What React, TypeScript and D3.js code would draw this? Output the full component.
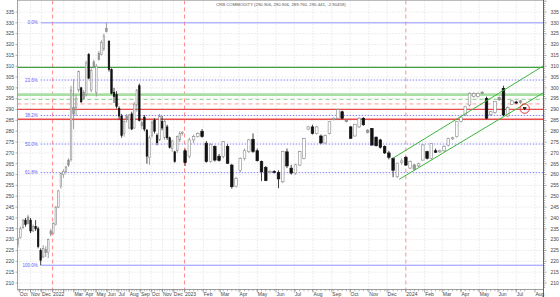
import React from "react";
import * as d3 from "d3";

const TITLE = "CRB COMMODITY (290.906, 290.906, 289.760, 290.441, -2.90459)";
const FIRST_WEEK = "2021-09-27";

const opens = [
  228, 231, 235.5, 239, 240.5, 239, 234, 236, 235, 225, 222, 224, 224, 234, 233, 237, 245, 254.5, 260, 261.5,
  266.7, 267, 288, 291, 299, 300, 298, 297, 315.5, 299, 312, 298, 316, 315.5, 318, 327.5, 321.5, 308.5, 298, 297,
  290.5, 287, 279, 287, 281.5, 288, 281.5, 292, 301, 282.5, 286.5, 280.5, 268, 278, 285, 278, 276, 284.5, 277, 282,
  277, 272, 270.5, 271, 276, 279,
  271, 268.5, 276, 277.5, 280, 274.5, 266, 273, 268.5, 268.3, 273, 264.4, 254.7, 261.8, 267.5, 270.6, 276.3, 271, 266, 263.3,
  261, 261.5, 261, 256.7, 270.5, 263, 260.7, 264.4, 267.5, 281, 282, 279, 277.8, 274.6, 279, 285.5, 286, 289, 284.5, 282,
  277.8, 282, 286, 279.5, 281.3, 277.3, 276, 273, 270, 267.5, 259, 265.5, 268, 263, 262.5, 264, 266.7, 270.6, 267.5, 271,
  270.5, 271, 273.6, 276.5, 277.5, 284.5, 287.5, 292.1, 296, 296, 298, 295.2, 287.6, 288.6, 295.5, 299.8, 287, 292.3, 293.5, 294,
  290.906,
];
const highs = [
  231, 236, 239.5, 240, 241.5, 240, 237, 239, 236, 226, 227.5, 227, 230.5, 235, 238, 245.5, 253, 261, 262.5, 264,
  267.5, 301, 304, 297, 308, 300.5, 299, 312.5, 316, 309, 313, 311, 317, 322, 325, 330, 322, 309, 300, 298.5,
  291.5, 288, 285, 288, 288, 289, 293.5, 299.5, 302, 285, 287.5, 281, 278, 285, 286, 279, 288, 287, 285.5, 283,
  277.5, 276, 271, 278, 280, 280,
  272, 277, 278.5, 279.5, 281, 275.5, 274.5, 273.5, 269.5, 275.5, 274, 265, 259, 268, 272, 276.5, 279, 272, 266.5, 264,
  262, 262, 262, 271, 272, 264.5, 265, 271, 277, 282.5, 283, 282.5, 278.5, 278.5, 284.5, 286.5, 290.5, 289.5, 285.5, 282.5,
  283.5, 286.5, 286.5, 281, 281.5, 277.5, 276.5, 273.5, 271, 268, 265.5, 267.5, 268.5, 266.5, 265, 265.5, 274, 271, 274.5, 272,
  271.5, 273.5, 277, 277.5, 284.5, 287, 291.5, 298, 298, 298, 298.5, 296, 289.5, 294, 296, 301, 291.5, 294.5, 294, 294.5,
  290.906,
];
const lows = [
  226.5, 230.5, 235, 236, 237, 233, 233.5, 234, 226, 218.2, 221.5, 222, 221.5, 231.5, 232.5, 236.5, 244.5, 253.5, 258.5, 260.5,
  263.5, 266, 281, 287, 298, 293, 294.5, 296, 304, 298, 309, 296, 312.5, 315, 317, 325.5, 307.5, 297, 293, 290.5,
  285.5, 277, 277.5, 284, 281, 280.5, 281, 289, 284.5, 281, 280, 265, 264.5, 277, 279, 273.5, 275.5, 280.5, 276, 276,
  272, 270.5, 265.5, 270, 275, 278,
  264, 267.5, 274.5, 277, 277, 265.5, 265.5, 266, 266, 267.5, 265, 253.5, 254, 261, 266.5, 270, 270, 266, 257, 257,
  260.5, 260.5, 253.7, 256, 263, 260, 260, 264, 267, 280.5, 278.5, 278.5, 274, 274, 278.5, 285, 285.5, 285.5, 284, 276.5,
  277.5, 281.5, 282.5, 279, 273.5, 273, 272, 269.5, 267, 258.8, 258.5, 264.5, 264, 262.5, 262, 263.5, 266.5, 267, 267, 270,
  270, 270.5, 273, 276, 277, 284, 287, 291.5, 295.5, 295.5, 297, 285.5, 287, 288, 294, 287, 286.5, 292, 292.5, 292.5,
  289.76,
];
const closes = [
  230.5, 235, 239, 237, 237.5, 234, 236, 235, 226.8, 220.5, 226, 225.5, 230, 232.5, 237.5, 245, 252.5, 260.5, 261.5, 263.5,
  264.4, 299, 291, 295, 307.5, 293.6, 295, 311.5, 304.5, 308, 309.5, 310, 313, 321, 324, 326, 308.5, 297.5, 296, 291.5,
  287, 278, 284.5, 285.5, 287.5, 281, 292.5, 299, 285, 284, 281, 268.5, 277, 284, 280, 274.7, 287, 281.5, 284.5, 277,
  272.5, 275.5, 266, 277.5, 279, 279.5,
  265.5, 276, 277.5, 279, 277.5, 266, 274, 266.7, 266.5, 275.2, 265.2, 254.4, 258.3, 267.5, 271, 276, 270.6, 266.4, 261.3, 257.2,
  261.5, 261, 258, 270.6, 264, 260.7, 264.5, 270.6, 276.7, 282, 279, 282, 274.6, 278, 284.4, 286, 290, 286, 285, 276.7,
  283.2, 286, 283, 280.5, 273.6, 273.3, 272.6, 270, 268, 262, 265.3, 266.3, 264.4, 266, 264.5, 265, 273.7, 267.5, 274.4, 270.3,
  271, 273, 276.7, 277, 284.4, 286.5, 291.3, 297.5, 297.5, 297.5, 297.5, 286, 289, 293.8, 294.5, 287.5, 291, 294, 293, 293.35,
  290.441,
];

const yTickValues = d3.range(210, 336, 5);
const yearStarts = ["2022-01-01", "2023-01-01", "2024-01-01"];
const fibPercents = [0, 23.6, 38.2, 50, 61.8, 100];
const fibLabels = ["0.0%", "23.6%", "38.2%", "50.0%", "61.8%", "100.0%"];
const levelValues = [309.5, 296.9, 294.7, 292.6, 290.1, 285.5];
const channelUpper: [string, number][] = [["2023-12-11", 267.6], ["2024-08-15", 310.2]];
const channelLower: [string, number][] = [["2023-12-21", 257.8], ["2024-08-15", 297.8]];

const levelStyles = [
  { stroke: "#3fa03f", width: 1.2, dash: undefined },
  { stroke: "#a9dfa3", width: 2.6, dash: undefined },
  { stroke: "#8fd08a", width: 1, dash: "4,3" },
  { stroke: "#ff9d9d", width: 1, dash: "4,3" },
  { stroke: "#ea4a4a", width: 1.4, dash: undefined },
  { stroke: "#ea4a4a", width: 1.4, dash: undefined },
];

const W = 560;
const H = 297;
const L = 17.5;
const R = 543.5;
const T = 0.5;
const B = 289.5;
const FONT = "'Liberation Sans', Arial, sans-serif";

const parse = (s: string) => {
  const [y, m, d] = s.split("-").map(Number);
  return new Date(y, m - 1, d);
};

export default function App() {
  const first = parse(FIRST_WEEK);
  const dates = closes.map((_, i) => new Date(first.getFullYear(), first.getMonth(), first.getDate() + 7 * i));

  const x = d3
    .scaleTime()
    .domain([first, parse("2023-01-01"), parse("2024-08-15")])
    .range([17.9, 184.5, R]);
  const y = d3.scaleLinear().domain([210, 335]).range([283, 12]);

  const months = d3.timeMonth.range(new Date(2021, 9, 1), new Date(2024, 7, 2));
  const fmt = d3.timeFormat("%b");
  const labelFs = 5;
  const labels: { x: number; text: string }[] = [];
  let lastEnd = -Infinity;
  months.forEach((m) => {
    const text = m.getMonth() === 0 ? String(m.getFullYear()) : fmt(m);
    const px = x(m) + 0.5;
    const w = text.length * labelFs * 0.56;
    if (px >= lastEnd + 1.5) {
      labels.push({ x: px, text });
      lastEnd = px + w;
    }
  });

  const hi = d3.max(highs) as number;
  const lo = d3.min(lows) as number;
  const loIdx = lows.indexOf(lo);
  const fibX = x(dates[loIdx]);

  const minorY = d3.range(208, 341, 1);

  const candles = closes.map((c, i) => {
    const o = opens[i];
    const prev = i > 0 ? closes[i - 1] : o;
    const cx = x(dates[i]);
    const step = x(new Date(dates[i].getTime() + 7 * 86400000)) - cx;
    const bw = Math.max(1.2, step * 0.62);
    let kind: "hollow" | "black" | "gray";
    if (c >= o) kind = c >= prev ? "hollow" : "gray";
    else kind = c < prev ? "black" : "gray";
    const top = y(Math.max(o, c));
    const bot = y(Math.min(o, c));
    return { i, cx, bw, kind, top, bot, h: highs[i], l: lows[i] };
  });

  const lastIdx = closes.length - 1;

  return (
    <div style={{ position: "fixed", left: 0, top: 0, width: W, height: H, background: "#fff" }}>
      <svg width={W} height={H} style={{ display: "block", fontFamily: FONT }}>
        <defs>
          <clipPath id="plot">
            <rect x={L} y={T} width={R - L} height={B - T} />
          </clipPath>
        </defs>
        <rect x={0} y={0} width={W} height={H} fill="#fff" />

        {/* grid */}
        {yTickValues.map((v) => (
          <line key={"gy" + v} x1={L} x2={R} y1={y(v)} y2={y(v)} stroke="#d4d4d4" strokeWidth={0.8} strokeDasharray="1,2" />
        ))}
        {months
          .filter((m) => m.getMonth() !== 0)
          .map((m) => (
            <line key={"gx" + m.getTime()} x1={x(m)} x2={x(m)} y1={T} y2={B} stroke="#d4d4d4" strokeWidth={0.8} strokeDasharray="1,2" />
          ))}
        {yearStarts.map((s) => (
          <line key={"yr" + s} x1={x(parse(s))} x2={x(parse(s))} y1={T} y2={B} stroke="#ff8f8f" strokeWidth={1} strokeDasharray="4,3" />
        ))}

        <g clipPath="url(#plot)">
          {/* fib */}
          {fibPercents.map((p, i) => {
            const v = hi - ((hi - lo) * p) / 100;
            const solid = p === 0 || p === 100;
            return (
              <line
                key={"fib" + p}
                x1={fibX}
                x2={R}
                y1={y(v)}
                y2={y(v)}
                stroke={solid ? "#9494ff" : "#8080ff"}
                strokeWidth={1}
                strokeDasharray={solid ? undefined : "1.5,1.5"}
              />
            );
          })}

          {/* support / resistance */}
          {levelValues.map((v, i) => (
            <line
              key={"lv" + i}
              x1={L}
              x2={R}
              y1={y(v)}
              y2={y(v)}
              stroke={levelStyles[i].stroke}
              strokeWidth={levelStyles[i].width}
              strokeDasharray={levelStyles[i].dash}
            />
          ))}

          {/* candles */}
          {candles.map((k) => {
            const wickColor = k.kind === "black" ? "#111" : "#8a8a8a";
            const fill = k.kind === "black" ? "#111" : k.kind === "gray" ? "#9a9a9a" : "#fff";
            const stroke = k.kind === "black" ? "#111" : "#8a8a8a";
            return (
              <g key={"c" + k.i}>
                <line x1={k.cx} x2={k.cx} y1={y(k.h)} y2={y(k.l)} stroke={wickColor} strokeWidth={0.8} />
                <rect
                  x={k.cx - k.bw / 2}
                  y={k.top}
                  width={k.bw}
                  height={Math.max(0.8, k.bot - k.top)}
                  fill={fill}
                  stroke={stroke}
                  strokeWidth={0.6}
                />
              </g>
            );
          })}

          {/* channel */}
          {[channelUpper, channelLower].map((pts, i) => (
            <line
              key={"ch" + i}
              x1={x(parse(pts[0][0]))}
              y1={y(pts[0][1])}
              x2={x(parse(pts[1][0]))}
              y2={y(pts[1][1])}
              stroke="#3cb43c"
              strokeWidth={1}
            />
          ))}

          <circle cx={x(dates[lastIdx])} cy={y(closes[lastIdx])} r={4.7} fill="none" stroke="#e53535" strokeWidth={1} />
        </g>

        {/* fib labels */}
        {fibPercents.map((p, i) => {
          const v = hi - ((hi - lo) * p) / 100;
          return (
            <text key={"fl" + p} x={fibX - 3} y={y(v)} dy="0.35em" textAnchor="end" fontSize={4.5} fill="#5c5cff">
              {fibLabels[i]}
            </text>
          );
        })}

        {/* frame and axes */}
        <line x1={L} x2={R} y1={T} y2={T} stroke="#aaa" strokeWidth={0.8} />
        <line x1={L} x2={L} y1={0} y2={B} stroke="#888" strokeWidth={0.8} />
        <line x1={L} x2={R} y1={B} y2={B} stroke="#888" strokeWidth={0.8} />
        <line x1={R} x2={R} y1={0} y2={H} stroke="#555" strokeWidth={0.9} />

        {minorY.map((v) => (
          <line key={"rt" + v} x1={R} x2={R + (v % 5 === 0 ? 3 : 1.8)} y1={y(v)} y2={y(v)} stroke="#666" strokeWidth={0.6} />
        ))}
        {yTickValues.map((v) => (
          <line key={"lt" + v} x1={L - 2} x2={L} y1={y(v)} y2={y(v)} stroke="#888" strokeWidth={0.6} />
        ))}
        {dates.map((d, i) => (
          <line key={"bt" + i} x1={x(d)} x2={x(d)} y1={B} y2={B + 1.8} stroke="#777" strokeWidth={0.5} />
        ))}
        {months.map((m) => (
          <line key={"bm" + m.getTime()} x1={x(m)} x2={x(m)} y1={B} y2={B + 3} stroke="#666" strokeWidth={0.6} />
        ))}

        {yTickValues.map((v) => (
          <text key={"ly" + v} x={14} y={y(v)} dy="0.35em" textAnchor="end" fontSize={labelFs} fill="#444">
            {v}
          </text>
        ))}
        {yTickValues.map((v) => (
          <text key={"ry" + v} x={550.5} y={y(v)} dy="0.35em" textAnchor="start" fontSize={labelFs} fill="#444">
            {v}
          </text>
        ))}
        {labels.map((lb) => (
          <text key={"xl" + lb.text + lb.x} x={lb.x} y={296} fontSize={labelFs} fill="#444">
            {lb.text}
          </text>
        ))}

        <text x={216} y={6.3} fontSize={4.3} fill="#555">
          {TITLE}
        </text>
      </svg>
    </div>
  );
}
